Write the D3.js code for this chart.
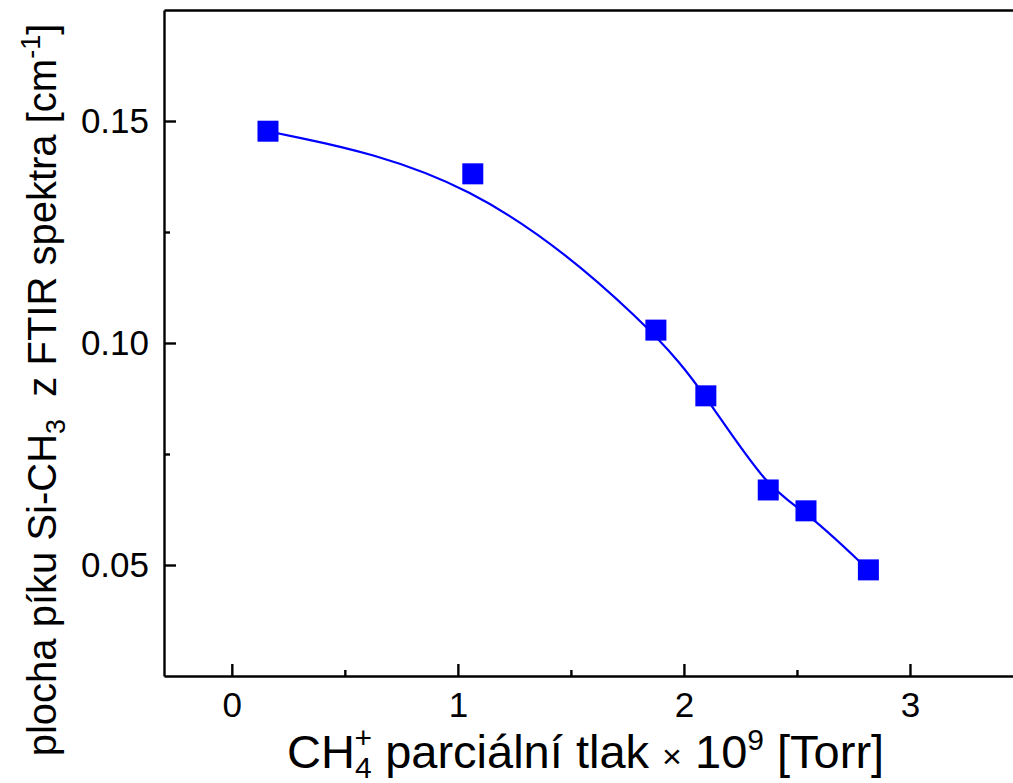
<!DOCTYPE html>
<html lang="cs">
<head>
<meta charset="UTF-8">
<title>Si-CH3</title>
<script src="https://d3js.org/d3.v7.min.js"></script>
<style>
  body { margin: 0; background: #fff; }
  svg { display: block; font-family: "Liberation Sans", Arial, sans-serif; }
  .axis path, .axis line { stroke: #000; stroke-width: 2.4px; fill: none; }
</style>
</head>
<body>
<script>
// data
var tlak = [0.16, 1.066, 1.876, 2.097, 2.373, 2.54, 2.816];
var plocha = [0.1477, 0.1381, 0.1029, 0.0881, 0.0669, 0.0622, 0.0489];
var xTicks = [0, 1, 2, 3];
var xMinor = [0.5, 1.5, 2.5];
var yTicks = [0.05, 0.10, 0.15];
var yMinor = [0.075, 0.125];

var width = 1013, height = 783;
var mLeft = 164, mTop = 10, mRight = 1023, mBottom = 676;

var svg = d3.select("body").append("svg")
    .attr("width", width)
    .attr("height", height);

var x = d3.scaleLinear().domain([-0.3, 3.5]).range([mLeft, mRight]);
var y = d3.scaleLinear().domain([0.025, 0.175]).range([mBottom, mTop]);

var data = tlak.map(function(d, i) { return [d, plocha[i]]; });

// osy
svg.append("g").attr("class", "axis")
    .attr("transform", "translate(0," + mBottom + ")")
    .call(d3.axisBottom(x).tickValues(xTicks).tickFormat(d3.format("d"))
        .tickSizeInner(-12).tickSizeOuter(0).tickPadding(16));
svg.append("g").attr("class", "axis")
    .attr("transform", "translate(0," + mBottom + ")")
    .call(d3.axisBottom(x).tickValues(xMinor).tickFormat("")
        .tickSizeInner(-6).tickSizeOuter(0))
    .select(".domain").remove();

svg.append("g").attr("class", "axis")
    .attr("transform", "translate(" + mLeft + ",0)")
    .call(d3.axisLeft(y).tickValues(yTicks).tickFormat(d3.format(".2f"))
        .tickSizeInner(-12).tickSizeOuter(0).tickPadding(15));
svg.append("g").attr("class", "axis")
    .attr("transform", "translate(" + mLeft + ",0)")
    .call(d3.axisLeft(y).tickValues(yMinor).tickFormat("")
        .tickSizeInner(-6).tickSizeOuter(0))
    .select(".domain").remove();

// horni a prava hrana ramecku
svg.append("g").attr("class", "axis")
    .attr("transform", "translate(0," + mTop + ")")
    .call(d3.axisTop(x).tickValues([]).tickSizeOuter(0));
svg.append("g").attr("class", "axis")
    .attr("transform", "translate(" + mRight + ",0)")
    .call(d3.axisRight(y).tickValues([]).tickSizeOuter(0));

svg.selectAll(".axis").attr("font-family", null).attr("font-size", 35);
svg.selectAll(".axis text").attr("fill", "#000");

// krivka (B-spline)
var line = d3.line()
    .x(function(d) { return x(d[0]); })
    .y(function(d) { return y(d[1]); })
    .curve(d3.curveBasis);

svg.append("path")
    .datum(data)
    .attr("d", line)
    .attr("fill", "none")
    .attr("stroke", "#0000ff")
    .attr("stroke-width", 2.2);

var s = 21;
svg.append("g").selectAll("rect")
    .data(data).enter()
    .append("rect")
    .attr("x", function(d) { return x(d[0]) - s / 2; })
    .attr("y", function(d) { return y(d[1]) - s / 2; })
    .attr("width", s)
    .attr("height", s)
    .attr("fill", "#0000ff");

// popisky os
var xt = svg.append("text")
    .attr("x", 287)
    .attr("y", 768)
    .attr("font-size", 47);
xt.append("tspan").text("CH");
xt.append("tspan").attr("font-size", 30).attr("dy", 10).text("4");
xt.append("tspan").attr("font-size", 30).attr("dx", -17).attr("dy", -30).text("+");
xt.append("tspan").attr("dy", 20).text(" parciální tlak ");
xt.append("tspan").attr("font-size", 34).text("\u00d7");
xt.append("tspan").text(" 10");
xt.append("tspan").attr("font-size", 30).attr("dy", -18).text("9");
xt.append("tspan").attr("dy", 18).text(" [Torr]");

var yt = svg.append("text")
    .attr("transform", "translate(56,390) rotate(-90)")
    .attr("text-anchor", "middle")
    .attr("font-size", 40);
yt.append("tspan").text("plocha píku Si-CH");
yt.append("tspan").attr("font-size", 27).attr("dy", 9).text("3");
yt.append("tspan").attr("dy", -9).text("\u00a0 z FTIR spektra [cm");
yt.append("tspan").attr("font-size", 27).attr("dy", -16).text("-1");
yt.append("tspan").attr("dy", 16).text("]");
</script>
</body>
</html>
